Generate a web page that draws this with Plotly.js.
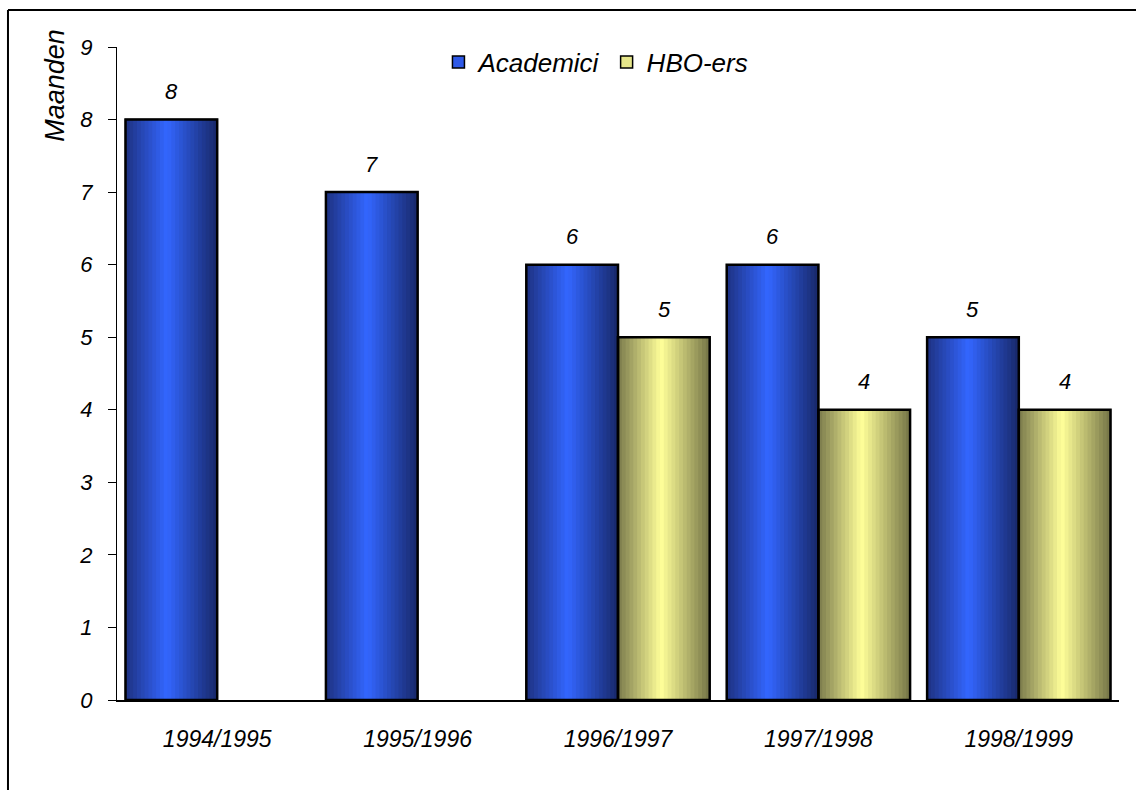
<!DOCTYPE html>
<html>
<head>
<meta charset="utf-8">
<script src="https://cdn.plot.ly/plotly-3.0.1.min.js"></script>
<style>
html,body{margin:0;padding:0;background:#fff;}
#chart{width:1136px;height:790px;}
</style>
</head>
<body>
<div id="chart"></div>
<script>
// ---- data ----
const categories = ['1994/1995', '1995/1996', '1996/1997', '1997/1998', '1998/1999'];
const academici = [8, 7, 6, 6, 5];
const hboErs = [null, null, 5, 4, 4];
const seriesNames = ['Academici', 'HBO-ers'];
const yTickVals = [0, 1, 2, 3, 4, 5, 6, 7, 8, 9];

// ---- style ----
const FONT = '"Liberation Sans", Arial, sans-serif';
const W = 0.4575;          // bar width in category units
const N = 24;              // gradient slices per bar
const gradients = [
  {left: [30, 50, 130], mid: [51, 102, 255], right: [24, 40, 104], peak: 0.45, solid: '#2f5ae8'},
  {left: [122, 122, 76], mid: [255, 255, 153], right: [116, 116, 70], peak: 0.47, solid: '#e6e68a'}
];

function lerp(a, b, t) { return a.map((v, i) => Math.round(v + (b[i] - v) * t)); }
function colorAt(g, t) {
  let c;
  if (t <= g.peak) c = lerp(g.left, g.mid, t / g.peak);
  else c = lerp(g.mid, g.right, (t - g.peak) / (1 - g.peak));
  return 'rgb(' + c.join(',') + ')';
}

const seriesValues = [academici, hboErs];
const offsets = [-W, 0];
const traces = [];
const outlines = [];

seriesValues.forEach((vals, s) => {
  const g = gradients[s];
  traces.push({
    type: 'bar', x: categories, y: vals, name: seriesNames[s],
    offset: offsets[s], width: W,
    marker: {color: g.solid, line: {color: '#000', width: 1.5}},
    legendgroup: seriesNames[s], showlegend: true, hoverinfo: 'skip'
  });
  for (let k = 0; k < N; k++) {
    traces.push({
      type: 'bar', x: categories, y: vals,
      offset: offsets[s] + k * W / N, width: W - k * W / N,
      marker: {color: colorAt(g, (k + 0.5) / N), line: {width: 0}},
      legendgroup: seriesNames[s], showlegend: false, hoverinfo: 'skip'
    });
  }
  outlines.push({
    type: 'bar', x: categories, y: vals,
    offset: offsets[s], width: W,
    marker: {color: 'rgba(0,0,0,0)', line: {color: '#000', width: 2.5}},
    legendgroup: seriesNames[s], showlegend: false, hoverinfo: 'skip'
  });
});

const annotations = [];
seriesValues.forEach((vals, s) => {
  vals.forEach((v, i) => {
    if (v === null) return;
    annotations.push({
      x: categories[i], y: v, xref: 'x', yref: 'y', text: String(v),
      showarrow: false, xshift: (s === 0 ? -1 : 1) * 46, yshift: 28,
      font: {family: FONT, size: 22, style: 'italic', color: '#000'}
    });
  });
});
annotations.push({
  xref: 'paper', yref: 'paper', x: -0.062, y: 0.942, text: 'Maanden',
  textangle: -90, showarrow: false, xanchor: 'center', yanchor: 'middle',
  font: {family: FONT, size: 27, style: 'italic', color: '#000'}
});

const layout = {
  width: 1136, height: 790,
  margin: {l: 117, r: 17, t: 47, b: 90},
  paper_bgcolor: '#fff', plot_bgcolor: '#fff',
  barmode: 'overlay',
  showlegend: true,
  hovermode: false,
  font: {family: FONT, color: '#000'},
  legend: {
    orientation: 'h', x: 0.478, y: 0.977, xanchor: 'center', yanchor: 'middle',
    font: {family: FONT, size: 26, style: 'italic', color: '#000'},
    bgcolor: 'rgba(0,0,0,0)', traceorder: 'normal', itemclick: false
  },
  xaxis: {
    type: 'category', showline: true, linecolor: '#000', linewidth: 1.5,
    ticks: '', showgrid: false, zeroline: false, fixedrange: true,
    tickfont: {family: FONT, size: 23, style: 'italic', color: '#000'},
    ticklabelstandoff: 18
  },
  yaxis: {
    range: [0, 9], tickvals: yTickVals, showline: true, linecolor: '#000', linewidth: 1,
    ticks: 'outside', ticklen: 8, tickcolor: '#000', tickwidth: 1,
    showgrid: false, zeroline: false, fixedrange: true,
    tickfont: {family: FONT, size: 22, style: 'italic', color: '#000'},
    ticklabelstandoff: 11
  },
  annotations: annotations,
  shapes: [
    {type: 'line', xref: 'paper', yref: 'paper', x0: -0.1088, x1: 1.05, y0: 1.0567, y1: 1.0567,
     line: {color: '#000', width: 2}},
    {type: 'line', xref: 'paper', yref: 'paper', x0: -0.1088, x1: -0.1088, y0: 1.0567, y1: -0.2,
     line: {color: '#000', width: 2}}
  ]
};

Plotly.newPlot('chart', traces.concat(outlines), layout, {displayModeBar: false, staticPlot: true});
</script>
</body>
</html>
